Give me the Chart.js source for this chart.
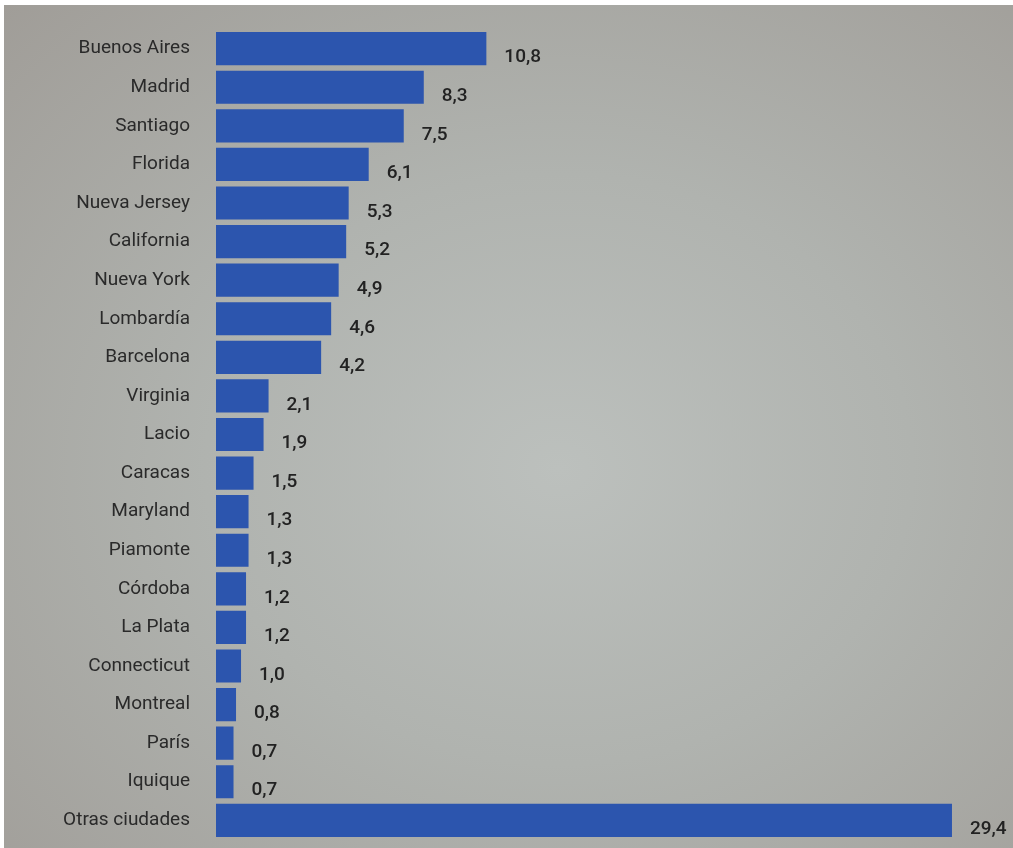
<!DOCTYPE html>
<html>
<head>
<meta charset="utf-8">
<script src="https://cdn.jsdelivr.net/npm/chart.js@4.4.1/dist/chart.umd.min.js"></script>
<style>
  html, body { margin: 0; padding: 0; background: #fff; overflow: hidden; }
  .photo {
    position: absolute; left: 4px; top: 5px; width: 1009px; height: 843px; overflow: hidden;
    background: radial-gradient(ellipse at 55% 55%, #bcc0bd 0%, #b0b3af 45%, #a09d98 100%);
  }
  #chart { display: block; margin-top: -5px; }
</style>
</head>
<body>
<div class="photo">
  <canvas id="chart" width="1009" height="869"></canvas>
</div>
<script>
// Data
const cities = ['Buenos Aires', 'Madrid', 'Santiago', 'Florida', 'Nueva Jersey', 'California',
  'Nueva York', 'Lombardía', 'Barcelona', 'Virginia', 'Lacio', 'Caracas', 'Maryland',
  'Piamonte', 'Córdoba', 'La Plata', 'Connecticut', 'Montreal', 'París', 'Iquique', 'Otras ciudades'];
const shares = [10.8, 8.3, 7.5, 6.1, 5.3, 5.2, 4.9, 4.6, 4.2, 2.1, 1.9, 1.5, 1.3, 1.3, 1.2, 1.2, 1.0, 0.8, 0.7, 0.7, 29.4];

// value labels next to each bar, with decimal comma
const valueLabels = {
  id: 'valueLabels',
  afterDatasetsDraw(chart) {
    const ctx = chart.ctx;
    const meta = chart.getDatasetMeta(0);
    ctx.save();
    ctx.font = '500 19px Roboto';
    ctx.fillStyle = '#222';
    ctx.textAlign = 'left';
    ctx.textBaseline = 'middle';
    meta.data.forEach((bar, i) => {
      const txt = shares[i].toFixed(1).replace('.', ',');
      ctx.fillText(txt, bar.x + 18, bar.y + 9);
    });
    ctx.restore();
  }
};

const ctx = document.getElementById('chart').getContext('2d');
const myChart = new Chart(ctx, {
  type: 'bar',
  data: {
    labels: cities,
    datasets: [{
      data: shares,
      backgroundColor: '#2c55ae',
      borderWidth: 0,
      barPercentage: 0.86,
      categoryPercentage: 1
    }]
  },
  options: {
    indexAxis: 'y',
    responsive: false,
    animation: false,
    layout: { padding: { top: 16, bottom: 9, right: 41, left: 0 } },
    scales: {
      x: {
        display: false,
        min: 0,
        max: 30.2
      },
      y: {
        grid: { display: false },
        border: { display: false },
        ticks: {
          color: '#2a2a2a',
          font: { family: 'Roboto', size: 19 },
          padding: 18
        },
        afterFit(scale) { scale.width = 212; }
      }
    },
    plugins: {
      legend: { display: false },
      tooltip: { enabled: false }
    }
  },
  plugins: [valueLabels]
});
</script>
</body>
</html>
